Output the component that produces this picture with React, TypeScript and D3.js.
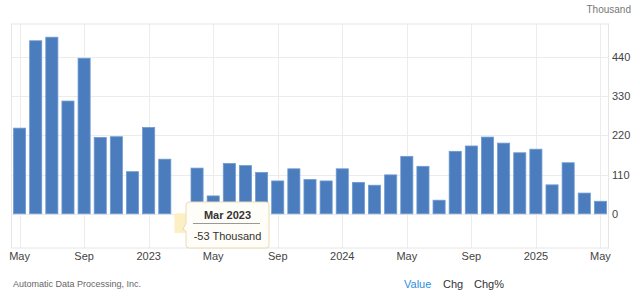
import React from "react";
import * as d3 from "d3";

const months: string[] = [
  "2022-05","2022-06","2022-07","2022-08","2022-09","2022-10","2022-11","2022-12",
  "2023-01","2023-02","2023-03","2023-04","2023-05","2023-06","2023-07","2023-08","2023-09","2023-10","2023-11","2023-12",
  "2024-01","2024-02","2024-03","2024-04","2024-05","2024-06","2024-07","2024-08","2024-09","2024-10","2024-11","2024-12",
  "2025-01","2025-02","2025-03","2025-04","2025-05",
];
const values: number[] = [
  240, 485, 495, 316, 436, 214, 216, 118,
  242, 153, -53, 128, 50, 141, 135, 116, 92, 126, 96, 92,
  126, 88, 80, 109, 161, 133, 38, 175, 190, 215, 198, 171,
  181, 81, 143, 58, 35,
];
const tickMonths: string[] = ["2022-05","2022-09","2023-01","2023-05","2023-09","2024-01","2024-05","2024-09","2025-01","2025-05"];
const tickLabels: string[] = ["May","Sep","2023","May","Sep","2024","May","Sep","2025","May"];
const yTicks: number[] = [0, 110, 220, 330, 440];
const hoverMonth = "2023-03";
const hoverTitle = "Mar 2023";
const hoverText = "-53 Thousand";

const W = 640, H = 298;
const left = 11.5, right = 608.5, top = 24, bottom = 248;
const font = "'Liberation Sans', Arial, sans-serif";

export default function App() {
  const x = d3.scaleBand<string>().domain(months).range([left, right]).paddingInner(0.25).paddingOuter(0.125);
  const y = d3.scaleLinear().domain([-96, 532]).range([bottom, top]);
  const cx = (m: string) => (x(m) as number) + x.bandwidth() / 2;
  const hi = months.indexOf(hoverMonth);
  const hx = cx(hoverMonth);
  const hy = y(values[hi]);
  const tipL = 186, tipR = 269, tipT = 202, tipB = 248;
  const tipMid = (tipL + tipR) / 2;
  const arrowY = (y(0) + hy) / 2 + 4;
  return (
    <svg width={W} height={H} style={{ position: "absolute", left: 0, top: 0, background: "#fff" }} fontFamily={font}>
      {yTicks.map((t) => (
        <line key={"gy" + t} x1={left} x2={right} y1={Math.round(y(t)) + 0.5} y2={Math.round(y(t)) + 0.5} stroke="#ececec" strokeWidth={1} />
      ))}
      {tickMonths.map((m) => (
        <line key={"gx" + m} x1={Math.round(cx(m)) + 0.5} x2={Math.round(cx(m)) + 0.5} y1={top} y2={bottom} stroke="#ececec" strokeWidth={1} />
      ))}
      <rect x={left} y={top} width={right - left} height={bottom - top} fill="none" stroke="#e6e6e6" strokeWidth={1} />
      {months.map((m, i) => {
        const v = values[i];
        const y0 = y(Math.max(0, v));
        const h = Math.abs(y(v) - y(0));
        const isHover = m === hoverMonth;
        return (
          <rect
            key={m}
            x={x(m)}
            y={y0}
            width={x.bandwidth()}
            height={h}
            fill={isHover ? "#fcefc4" : "#4a7cbe"}
            stroke={isHover ? "#fcefc4" : "#6f9bd1"}
            strokeWidth={0.8}
          />
        );
      })}
      {yTicks.map((t) => (
        <text key={"yl" + t} x={612} y={y(t) + 4} fontSize={11} fill="#444">{t}</text>
      ))}
      <text x={631} y={13} fontSize={10} fill="#777" textAnchor="end">Thousand</text>
      {tickMonths.map((m, i) => (
        <text key={"xl" + m} x={cx(m)} y={260} fontSize={11} fill="#444" textAnchor="middle">{tickLabels[i]}</text>
      ))}
      <g>
        <path
          d={`M${tipL + 3},${tipT} H${tipR - 3} Q${tipR},${tipT} ${tipR},${tipT + 3} V${tipB - 3} Q${tipR},${tipB} ${tipR - 3},${tipB} H${tipL + 3} Q${tipL},${tipB} ${tipL},${tipB - 3} V${arrowY + 4} L${hx + 2},${arrowY + 2} L${tipL},${arrowY - 4} V${tipT + 3} Q${tipL},${tipT} ${tipL + 3},${tipT} Z`}
          fill="#fffdf7"
          stroke="#eadbb8"
          strokeWidth={1}
        />
        <text x={tipMid} y={219} fontSize={11} fontWeight="bold" fill="#333" textAnchor="middle">{hoverTitle}</text>
        <line x1={193} x2={260} y1={223.5} y2={223.5} stroke="#999" strokeWidth={1} />
        <text x={tipMid} y={240} fontSize={11} fill="#333" textAnchor="middle">{hoverText}</text>
      </g>
      <text x={13} y={287} fontSize={9} fill="#666">Automatic Data Processing, Inc.</text>
      <text x={404} y={288} fontSize={11} fill="#2d8fe3">Value</text>
      <text x={443} y={288} fontSize={11} fill="#333">Chg</text>
      <text x={474} y={288} fontSize={11} fill="#333">Chg%</text>
    </svg>
  );
}
